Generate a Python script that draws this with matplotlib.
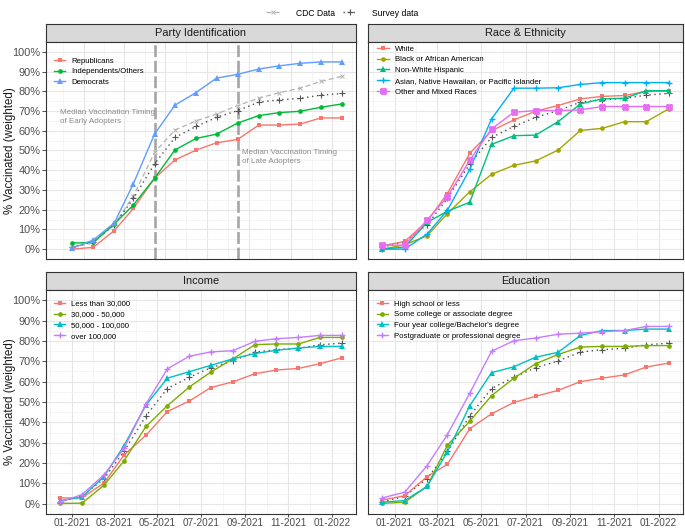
import matplotlib
matplotlib.use('Agg')
import matplotlib.pyplot as plt
import matplotlib.dates as mdates
from matplotlib.lines import Line2D
from matplotlib.path import Path
import numpy as np
import datetime as dt

plt.rcParams['font.family'] = ['Liberation Sans', 'DejaVu Sans']

# ---------------- data ----------------
dates = ['2020-12-15', '2021-01-15', '2021-02-15', '2021-03-15', '2021-04-15',
         '2021-05-15', '2021-06-15', '2021-07-15', '2021-08-15', '2021-09-15',
         '2021-10-15', '2021-11-15', '2021-12-15', '2022-01-15']

survey = [1.0, 3.7, 12.4, 25.7, 43.2, 56.6, 62.2, 66.8, 70.2, 74.5, 75.7, 76.4, 78.1, 78.9]
cdc = [1.0, 3.0, 12.4, 27.0, 49.0, 60.4, 65.0, 68.5, 72.8, 76.5, 79.3, 81.6, 85.0, 87.6]

party_groups = ['Republicans', 'Independents/Others', 'Democrats']
republicans = [0.0, 0.9, 9.4, 20.6, 35.9, 45.2, 50.2, 53.9, 55.6, 62.9, 62.9, 63.4, 66.5, 66.5]
independents = [3.1, 3.4, 12.8, 22.4, 35.9, 50.3, 56.1, 58.3, 63.9, 67.7, 69.2, 69.9, 71.9, 73.6]
democrats = [0.5, 4.6, 13.3, 33.2, 58.3, 73.0, 79.4, 86.7, 88.6, 91.3, 92.9, 94.2, 94.9, 94.9]

race_groups = ['White', 'Black or African American', 'Non-White Hispanic',
               'Asian, Native Hawaiian, or Pacific Islander', 'Other and Mixed Races']
white = [1.7, 3.9, 14.1, 28.2, 48.6, 60.0, 65.5, 69.9, 72.8, 76.2, 77.4, 77.9, 79.9, 80.1]
black = [0.0, 2.2, 6.8, 18.0, 29.1, 37.9, 42.5, 44.7, 50.2, 60.2, 61.2, 64.6, 64.6, 71.1]
hispanic = [0.0, 1.0, 13.6, 19.2, 23.8, 53.1, 57.5, 57.8, 64.6, 73.6, 76.2, 76.5, 80.3, 80.3]
asian = [0.0, 0.0, 7.7, 19.7, 40.5, 66.0, 81.6, 81.6, 81.8, 83.5, 84.4, 84.4, 84.4, 84.4]
other_race = [2.0, 2.0, 14.8, 26.5, 45.1, 60.9, 69.4, 70.2, 70.2, 70.6, 72.3, 72.3, 72.3, 72.3]

income_groups = ['Less than 30,000', '30,000 - 50,000', '50,000 - 100,000', 'over 100,000']
inc_lt30 = [2.9, 2.9, 10.2, 23.9, 33.7, 45.3, 50.5, 57.1, 59.9, 63.9, 65.7, 66.5, 68.8, 71.7]
inc_30_50 = [0.2, 0.3, 9.1, 21.0, 38.0, 48.2, 57.4, 64.7, 71.2, 78.2, 78.5, 78.5, 81.7, 81.7]
inc_50_100 = [1.6, 3.2, 13.4, 28.5, 48.5, 61.7, 64.9, 68.0, 71.2, 73.8, 75.4, 76.5, 77.3, 77.3]
inc_gt100 = [0.8, 4.5, 14.2, 27.2, 49.0, 66.3, 72.5, 74.6, 75.2, 79.8, 81.1, 81.7, 82.7, 82.7]

edu_groups = ['High school or less', 'Some college or associate degree',
              "Four year college/Bachelor's degree", 'Postgraduate or professional degree']
edu_hs = [1.8, 4.0, 13.4, 19.4, 36.9, 44.2, 49.8, 52.8, 55.7, 60.0, 61.7, 63.3, 67.2, 69.1]
edu_some = [0.2, 0.8, 8.6, 28.8, 40.6, 53.1, 61.7, 68.8, 73.3, 77.0, 77.3, 77.3, 77.7, 77.7]
edu_ba = [0.8, 1.6, 8.6, 25.6, 48.2, 64.4, 67.3, 72.0, 74.4, 82.7, 85.1, 85.1, 85.8, 85.8]
edu_post = [2.9, 5.7, 18.8, 34.0, 54.4, 74.9, 80.1, 81.4, 83.3, 83.8, 84.5, 85.1, 87.1, 87.1]

panel_titles = ['Party Identification', 'Race & Ethnicity', 'Income', 'Education']
vline_dates = ['2021-04-15', '2021-08-15']
annot_early = ('2020-11-27', 67.0, 'Median Vaccination Timing\nof Early Adopters')
annot_late = ('2021-08-22', 46.6, 'Median Vaccination Timing\nof Late Adopters')
xtick_dates = ['2020-11-01', '2021-01-01', '2021-03-01', '2021-05-01', '2021-07-01',
               '2021-09-01', '2021-11-01', '2022-01-01', '2022-03-01']
ytick_vals = list(range(0, 101, 10))

# ---------------- styles ----------------
W, H = 685, 528
pal3 = ['#F8766D', '#00BA38', '#619CFF']
pal4 = ['#F8766D', '#7CAE00', '#00BFC4', '#C77CFF']
pal5 = ['#F8766D', '#A3A500', '#00BF7D', '#00B0F6', '#E76BF3']
sq_cross = Path([(-1, -1), (1, -1), (1, 1), (-1, 1), (-1, -1), (-1, -1), (1, 1), (-1, 1), (1, -1)],
                [Path.MOVETO, Path.LINETO, Path.LINETO, Path.LINETO, Path.LINETO,
                 Path.MOVETO, Path.LINETO, Path.MOVETO, Path.LINETO])
markers = ['s', 'o', '^', '+', sq_cross]
msizes = [3.2, 3.4, 3.8, 4.5, 3.6]

def todate(s):
    return dt.datetime.strptime(s, '%Y-%m-%d')

xd = [todate(d) for d in dates]
xnum = mdates.date2num(xd)

fig = plt.figure(figsize=(W / 100, H / 100), dpi=100)

def px_axes(x0, y0, x1, y1):
    return fig.add_axes([x0 / W, 1 - y1 / H, (x1 - x0) / W, (y1 - y0) / H])

def strip(x0, y0, x1, y1, title):
    s = px_axes(x0, y0, x1, y1)
    s.set_facecolor('#D9D9D9')
    s.set_xticks([]); s.set_yticks([])
    for sp in s.spines.values():
        sp.set_color('#333333'); sp.set_linewidth(0.8)
    s.text(0.5, 0.5, title, ha='center', va='center', fontsize=7.9, color='#1A1A1A',
           transform=s.transAxes)

all_major = mdates.date2num([todate(d) for d in xtick_dates])
minor_all = (all_major[:-1] + all_major[1:]) / 2

def panel(box, title, labels, series, pal, leg_anchor, show_x, show_y,
          extra_min=None, party=False):
    x0, y0, x1, y1 = box
    strip(x0, y0 - 18.5, x1, y0, title)
    ax = px_axes(x0, y0, x1, y1)
    lo = xnum[0] if extra_min is None else min(xnum[0], extra_min)
    hi = xnum[-1]
    r = hi - lo
    xl = (lo - 0.05 * r, hi + 0.05 * r)
    ax.set_xticks([m for m in all_major if xl[0] <= m <= xl[1]])
    ax.set_xticks([m for m in minor_all if xl[0] <= m <= xl[1]], minor=True)
    ax.set_yticks(ytick_vals)
    ax.set_yticks([v + 5 for v in ytick_vals[:-1]], minor=True)
    ax.set_xlim(*xl)
    ax.set_ylim(-5, 105)
    ax.grid(which='major', color='#E6E6E6', linewidth=0.8)
    ax.grid(which='minor', color='#F2F2F2', linewidth=0.5)
    ax.set_axisbelow(True)
    for sp in ax.spines.values():
        sp.set_color('#333333'); sp.set_linewidth(0.8)
    ax.tick_params(which='minor', length=0)
    if show_x:
        ax.xaxis.set_major_formatter(mdates.DateFormatter('%m-%Y'))
        ax.tick_params(axis='x', which='major', length=2.4, width=0.6, color='#333333',
                       labelsize=7.2, labelcolor='#4D4D4D', pad=0.5)
    else:
        ax.tick_params(axis='x', which='major', length=0, labelbottom=False)
    if show_y:
        ax.set_yticklabels([f'{v}%' for v in ytick_vals])
        ax.tick_params(axis='y', which='major', length=2.7, width=0.6, color='#333333',
                       labelsize=7.9, labelcolor='#4D4D4D', pad=1.2)
    else:
        ax.tick_params(axis='y', which='major', length=0, labelleft=False)

    if party:
        for vd in vline_dates:
            ax.axvline(todate(vd), color='#A6A6A6', linewidth=1.9, dashes=(4.5, 1.4), zorder=1)
        for ad in (annot_early, annot_late):
            ax.text(todate(ad[0]), ad[1], ad[2], ha='left', va='center', fontsize=5.8,
                    color='#8C8C8C', linespacing=1.45, zorder=2)
        ax.plot(xd, cdc, color='#B3B3B3', linewidth=0.9, dashes=(4, 2.5), marker='x',
                markersize=3, markeredgewidth=0.7, zorder=3)

    ax.plot(xd, survey, color='#4D4D4D', linewidth=1.0, dashes=(1, 2.6), marker='+',
            markersize=4.2, markeredgewidth=0.8, markeredgecolor='#555555', zorder=3)

    handles = []
    for i, (lab, vals) in enumerate(zip(labels, series)):
        mk = markers[i]
        kw = dict(color=pal[i], linewidth=1.0, marker=mk, markersize=msizes[i], zorder=4)
        if mk is sq_cross:
            kw.update(markerfacecolor='none', markeredgewidth=1.2)
        elif mk == '+':
            kw.update(markeredgewidth=1.0)
        else:
            kw.update(markeredgewidth=0)
        ln, = ax.plot(xd, vals, label=lab, **kw)
        handles.append(ln)
    ax.legend(handles=handles, loc='upper left', bbox_to_anchor=leg_anchor, frameon=False,
              fontsize=5.6, borderpad=0, borderaxespad=0, handlelength=1.45,
              handletextpad=0.75, labelspacing=0.42)
    return ax

LB = (45.7, 42, 356, 259)
RB = (368, 42, 683, 259)
LB2 = (45.7, 290, 356, 514)
RB2 = (368, 290, 683, 514)

panel(LB, panel_titles[0], party_groups, [republicans, independents, democrats], pal3,
      (0.027, 0.93), False, True, extra_min=mdates.date2num(todate(annot_early[0])), party=True)
panel(RB, panel_titles[1], race_groups, [white, black, hispanic, asian, other_race], pal5,
      (0.030, 0.985), False, False)
panel(LB2, panel_titles[2], income_groups, [inc_lt30, inc_30_50, inc_50_100, inc_gt100], pal4,
      (0.027, 0.955), True, True)
panel(RB2, panel_titles[3], edu_groups, [edu_hs, edu_some, edu_ba, edu_post], pal4,
      (0.027, 0.955), True, False)

for yc in ((42 + 259) / 2, (290 + 514) / 2):
    fig.text(10 / W, 1 - yc / H, '% Vaccinated (weighted)', rotation=90, ha='center',
             va='center', fontsize=8.3, color='#1A1A1A')

top_handles = [
    Line2D([], [], color='#B3B3B3', linewidth=0.9, dashes=(4, 2.5), marker='x',
           markersize=3, markeredgewidth=0.7),
    Line2D([], [], color='#4D4D4D', linewidth=1.0, dashes=(1, 2.6), marker='+',
           markersize=4.2, markeredgewidth=0.8, markeredgecolor='#555555'),
]
fig.legend(handles=top_handles, labels=['CDC Data', 'Survey data'], loc='center',
           bbox_to_anchor=(0.5, 1 - 13 / H), ncol=2, frameon=False, fontsize=6.2,
           handlelength=1.6, handletextpad=1.8, columnspacing=1.0, borderpad=0)

fig.savefig('out.png', dpi=100)
